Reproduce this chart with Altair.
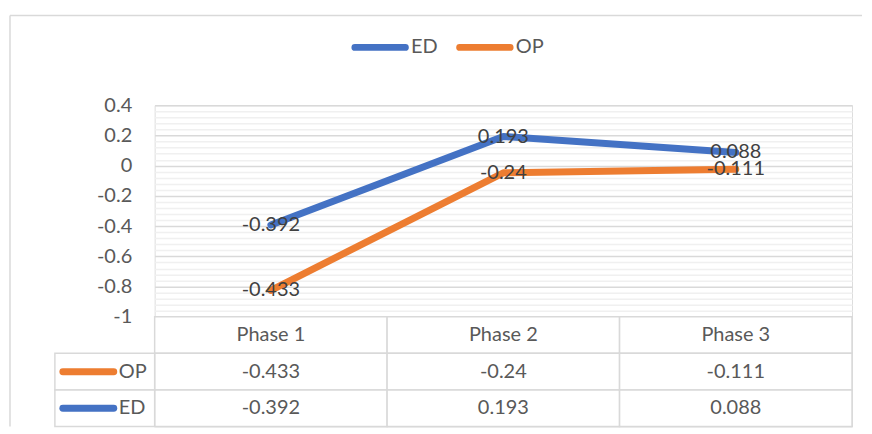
import altair as alt
import pandas as pd

phases = ["Phase 1", "Phase 2", "Phase 3"]
series = ["ED", "OP"]
ed_values = [-0.392, 0.193, 0.088]
op_values = [-0.433, -0.24, -0.111]
table_rows = ["OP", "ED"]
major_ticks = [0.4, 0.2, 0, -0.2, -0.4, -0.6, -0.8, -1]
minor_ticks = [round(-1 + 0.04 * i, 2) for i in range(36) if i % 5 != 0]
colors = ["#4472C4", "#ED7D31"]

FONT = "Lato"
FS = 20
W = 699
H = 212
TH = 110

recs = []
for i, p in enumerate(phases):
    recs.append({"phase": p, "series": "ED", "order": 0, "value": ed_values[i]})
    recs.append({"phase": p, "series": "OP", "order": 1, "value": op_values[i]})
df = pd.DataFrame(recs)

color_scale = alt.Scale(domain=series, range=colors)
x_point = alt.Scale(type="point", domain=phases, padding=0.5)
y_scale = alt.Scale(domain=[-1, 0.4], nice=False, zero=False)

base = alt.Chart(df).transform_window(
    cum="sum(value)", groupby=["phase"], sort=[alt.SortField("order")]
).transform_calculate(label="'' + datum.value")

minor = base.mark_point(opacity=0).encode(
    x=alt.X("phase:N", scale=x_point, axis=None),
    y=alt.Y("cum:Q", scale=y_scale, axis=alt.Axis(
        orient="left", values=minor_ticks, grid=True, gridColor="#f0f0f0",
        gridWidth=1.5, labels=False, ticks=False, domain=False, title=None)),
)

capsule = ("M-0.936,-0.064 L0.936,-0.064 A0.064,0.064 0 0 1 0.936,0.064 "
           "L-0.936,0.064 A0.064,0.064 0 0 1 -0.936,-0.064 Z")

lines = base.mark_line(strokeWidth=7, strokeCap="round", strokeJoin="round").encode(
    x=alt.X("phase:N", scale=x_point, axis=None),
    y=alt.Y("cum:Q", scale=y_scale, axis=alt.Axis(
        orient="left", values=major_ticks, grid=True, gridColor="#d9d9d9",
        gridWidth=1.5, labelExpr="'' + datum.value", labelFont=FONT,
        labelFontSize=FS, labelColor="#595959", labelPadding=23,
        ticks=False, domain=False, title=None)),
    color=alt.Color("series:N", scale=color_scale, legend=alt.Legend(
        orient="none", legendX=197, legendY=-87, direction="horizontal",
        title=None, symbolType=capsule, symbolStrokeWidth=3.5, symbolSize=2916,
        labelFont=FONT, labelFontSize=FS, labelColor="#595959",
        labelOffset=2, columnPadding=13)),
    order=alt.Order("phase:N"),
)

labels = base.mark_text(font=FONT, fontSize=FS, color="#404040",
                        align="center", baseline="middle").encode(
    x=alt.X("phase:N", scale=x_point, axis=None),
    y=alt.Y("cum:Q", scale=y_scale, axis=None),
    text="label:N",
)

frame_df = pd.DataFrame({"k": [0]})
top_border = alt.Chart(frame_df).mark_rule(color="#d9d9d9", strokeWidth=1.5).encode(
    x=alt.value(-145), x2=alt.value(709), y=alt.value(-90))
left_border = alt.Chart(frame_df).mark_rule(color="#d9d9d9", strokeWidth=1.5).encode(
    x=alt.value(-145), y=alt.value(-90), y2=alt.value(322))

main = alt.layer(minor, lines, labels, top_border, left_border).resolve_axis(
    y="independent").properties(width=W, height=H)

# ---- data table ----
trecs = []
for p in phases:
    trecs.append({"row": "hdr", "phase": p, "label": p})
for i, p in enumerate(phases):
    trecs.append({"row": "OP", "phase": p, "label": str(op_values[i])})
    trecs.append({"row": "ED", "phase": p, "label": str(ed_values[i])})
tdf = pd.DataFrame(trecs)
left_df = pd.DataFrame({"series": table_rows})

x_band = alt.Scale(type="band", domain=phases, paddingInner=0, paddingOuter=0)
row_scale = alt.Scale(type="band", domain=["hdr"] + table_rows, paddingInner=0, paddingOuter=0)

cells = alt.Chart(tdf).mark_rect(fill="white", stroke="#d9d9d9", strokeWidth=1.5).encode(
    x=alt.X("phase:N", scale=x_band, axis=None),
    y=alt.Y("row:N", scale=row_scale, axis=None),
)
cell_text = alt.Chart(tdf).mark_text(font=FONT, fontSize=FS, color="#595959",
                                     align="center", baseline="middle").encode(
    x=alt.X("phase:N", scale=x_band, axis=None, bandPosition=0.5),
    y=alt.Y("row:N", scale=row_scale, axis=None, bandPosition=0.5),
    text="label:N",
)
left_cells = alt.Chart(left_df).mark_rect(fill="white", stroke="#d9d9d9", strokeWidth=1.5).encode(
    x=alt.value(-100), x2=alt.value(0),
    y=alt.Y("series:N", scale=row_scale, axis=None),
)
swatches = alt.Chart(left_df).mark_rule(strokeWidth=7, strokeCap="round").encode(
    x=alt.value(-92), x2=alt.value(-41),
    y=alt.Y("series:N", scale=row_scale, axis=None, bandPosition=0.5),
    color=alt.Color("series:N", scale=color_scale, legend=None),
)
swatch_text = alt.Chart(left_df).mark_text(font=FONT, fontSize=FS, color="#595959",
                                           align="left", baseline="middle").encode(
    x=alt.value(-36),
    y=alt.Y("series:N", scale=row_scale, axis=None, bandPosition=0.5),
    text="series:N",
)

table = alt.layer(cells, left_cells, cell_text, swatches, swatch_text).properties(
    width=W, height=TH)

chart = alt.vconcat(main, table, spacing=0, bounds="flush").properties(
    padding={"top": 5, "left": 0, "right": 0, "bottom": 0}
).configure_view(stroke=None).configure(font=FONT)

chart.save("out.html", embed_options={"renderer": "svg", "actions": False})
